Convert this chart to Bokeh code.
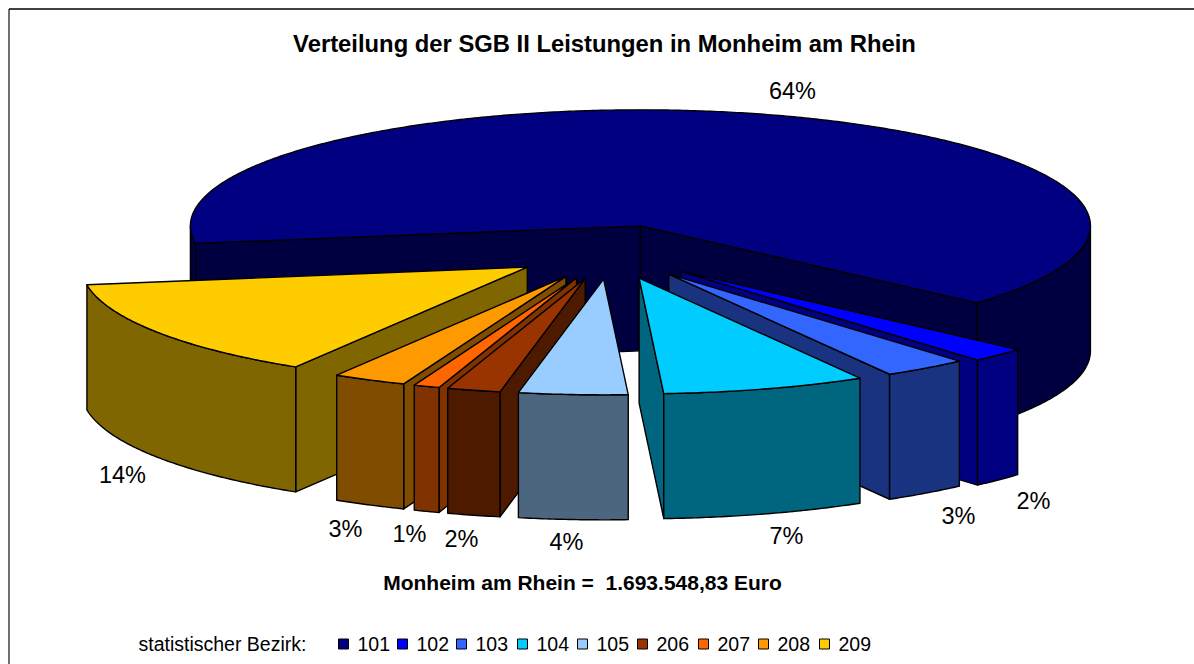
import math
from bokeh.plotting import figure
from bokeh.models import Range1d
from bokeh.core.properties import value
from bokeh.embed import file_html
from bokeh.resources import INLINE

# ---- data
districts = ["101", "102", "103", "104", "105", "206", "207", "208", "209"]
shares = [63.9, 2.0, 3.1, 7.45, 3.98, 1.95, 0.95, 2.7, 13.87]
labels = ["64%", "2%", "3%", "7%", "4%", "2%", "1%", "3%", "14%"]
top_colors = ["#000080", "#0000FF", "#3366FF", "#00CCFF", "#99CCFF", "#993300", "#FF6600", "#FF9900", "#FFCC00"]
side_colors = ["#000040", "#000080", "#1A3380", "#006680", "#4D6680", "#4D1A00", "#803300", "#804D00", "#806600"]
title = "Verteilung der SGB II Leistungen in Monheim am Rhein"
subtitle = "Monheim am Rhein =\u00a0\u00a01.693.548,83 Euro"
legend_title = "statistischer Bezirk:"

# ---- layout (page pixels)
W, H = 1194, 664
CX, CY = 610.5, 251.5
RX, RY = 450.0, 118.0
MAIN_RY = 116.0
EXPLODE = 0.231
PIECE_CX = 610.0
PIECE_EXPLODE_X = 100.0
piece_scale = [1.0, 1.0, 0.98, 0.98, 0.98, 0.98, 0.98, 0.98, 0.99]
DEPTH = 125.0
FIRST_ANGLE = 261.3
label_xy = [(792, 90), (1033, 500), (958, 515), (786, 535), (566, 541), (461, 538), (409, 533), (345, 528), (122, 474)]
legend_x = [343, 402, 461, 522, 582, 642, 703, 763, 824]
LEGEND_Y = 643.5
FONT = value("Liberation Sans")

p = figure(width=W, height=H, output_backend="svg", toolbar_location=None,
           x_range=Range1d(0, W), y_range=Range1d(H, 0),
           min_border=0, outline_line_color=None, background_fill_color="white")
p.axis.visible = False
p.grid.visible = False


def pt(a, ax, ay, r, ry=RY):
    t = math.radians(a)
    return ax + r * RX * math.sin(t), ay - r * ry * math.cos(t)


def arc(a0, a1, ax, ay, r, ry):
    n = max(2, int(abs(a1 - a0) * 2) + 1)
    return [pt(a0 + (a1 - a0) * i / (n - 1), ax, ay, r, ry) for i in range(n)]


def poly(points, color):
    p.patch([q[0] for q in points], [q[1] for q in points], fill_color=color,
            line_color="black", line_width=1.4, line_join="round")


def draw_piece(a0, a1, top, side, r, main):
    mid = (a0 + a1) / 2
    if main:
        ax, ay = pt(mid, CX, CY, EXPLODE)
        ry = MAIN_RY
    else:
        t = math.radians(mid)
        ax = PIECE_CX + PIECE_EXPLODE_X * math.sin(t)
        ay = CY - EXPLODE * RY * math.cos(t)
        ry = RY
    down = lambda q: (q[0], q[1] + DEPTH)
    # radial walls facing the viewer
    if math.sin(math.radians(a0)) < 0:
        e = pt(a0, ax, ay, r, ry)
        poly([(ax, ay), e, down(e), (ax, ay + DEPTH)], side)
    if math.sin(math.radians(a1)) > 0:
        e = pt(a1, ax, ay, r, ry)
        poly([(ax, ay), e, down(e), (ax, ay + DEPTH)], side)
    # outer wall: the parts of the rim on the front half
    for k in range(-1, 3):
        lo, hi = max(a0, 90 + 360 * k), min(a1, 270 + 360 * k)
        if hi > lo:
            rim = arc(lo, hi, ax, ay, r, ry)
            poly(rim + [down(q) for q in reversed(rim)], side)
    # top face
    poly([(ax, ay)] + arc(a0, a1, ax, ay, r, ry), top)


# frame
p.line([8.5, 8.5], [H, 8.5], line_color="#404040", line_width=1.5)
p.line([8.5, W], [8.5, 8.5], line_color="black", line_width=1.5)

# slices from the shares, painted back to front
spans = []
a = FIRST_ANGLE
total = sum(shares)
for s in shares:
    spans.append((a, a + s / total * 360))
    a = spans[-1][1]
norm = lambda m: abs((m % 360) - 180)
order = sorted(range(len(shares)), key=lambda i: -norm(sum(spans[i]) / 2))
for i in order:
    draw_piece(spans[i][0], spans[i][1], top_colors[i], side_colors[i], piece_scale[i], i == 0)

# texts
p.text([604], [43], text=[title], text_font=FONT, text_font_size="23.8px", text_font_style="bold",
       text_align="center", text_baseline="middle", text_color="black")
p.text([582], [582], text=[subtitle], text_font=FONT, text_font_size="21px", text_font_style="bold",
       text_align="center", text_baseline="middle", text_color="black")
p.text([q[0] for q in label_xy], [q[1] for q in label_xy], text=labels, text_font=FONT,
       text_font_size="23.5px", text_align="center", text_baseline="middle", text_color="black")
p.text([138], [LEGEND_Y], text=[legend_title], text_font=FONT, text_font_size="19.5px",
       text_align="left", text_baseline="middle", text_color="black")
p.scatter(legend_x, [LEGEND_Y] * len(legend_x), marker="square", size=10, fill_color=top_colors,
          line_color="black", line_width=1)
p.text([x + 14 for x in legend_x], [LEGEND_Y] * len(legend_x), text=districts, text_font=FONT,
       text_font_size="19.5px", text_align="left", text_baseline="middle", text_color="black")

open("out.html", "w").write(file_html(p, INLINE))
